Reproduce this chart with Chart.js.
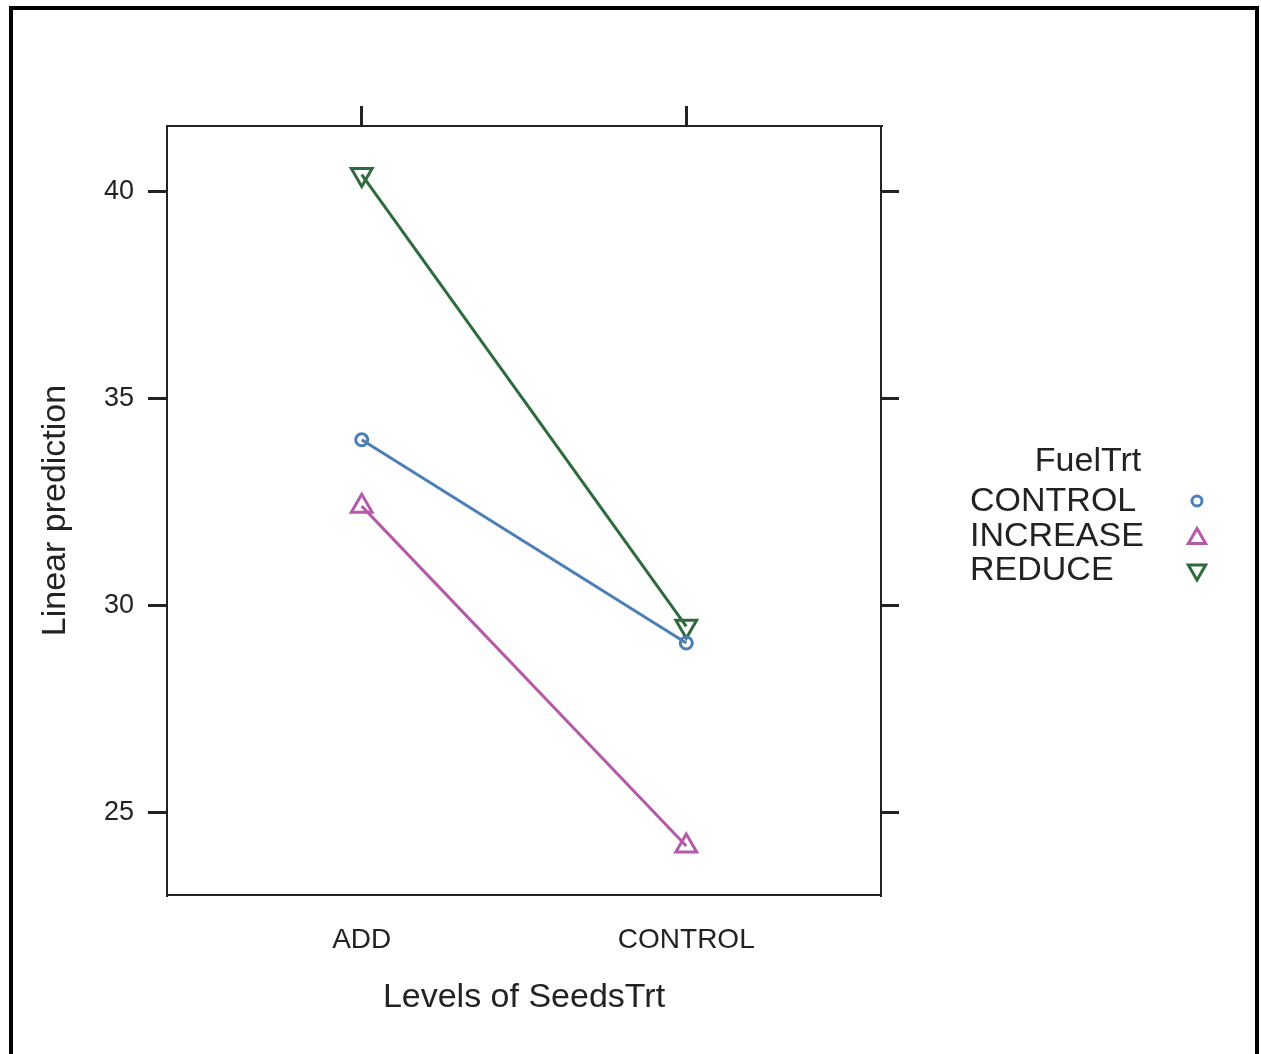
<!DOCTYPE html>
<html>
<head>
<meta charset="utf-8">
<script src="https://cdn.jsdelivr.net/npm/chart.js@4/dist/chart.umd.min.js"></script>
<style>
  body { margin: 0; background: #fff; }
</style>
</head>
<body>
<canvas id="predChart" width="1261" height="1054"></canvas>
<script>
// Categorieen op de x-as (SeedsTrt)
var seedsLevels = ["ADD", "CONTROL"];
// Namen van de reeksen (FuelTrt)
var fuelNames = ["CONTROL", "INCREASE", "REDUCE"];
// Voorspelde waarden per reeks, zelfde volgorde als seedsLevels
var controlValues = [34.0, 29.1];
var increaseValues = [32.4, 24.2];
var reduceValues = [40.4, 29.5];
// Waarden op de y-as
var yTickValues = [25, 30, 35, 40];

var fuelColors = ["#4b7fb8", "#b45aa8", "#2e6b3c"];
var textColor = "#222";
var fontFamily = "'Liberation Sans', Arial, sans-serif";

function toPoints(values) {
    return values.map(function (v, i) { return { x: i, y: v }; });
}

function categoryTicks(scale) {
    scale.ticks = seedsLevels.map(function (_, i) { return { value: i }; });
}

function valueTicks(scale) {
    scale.ticks = yTickValues.map(function (v) { return { value: v }; });
}

// Zwarte rand om de hele figuur
var framePlugin = {
    id: "frame",
    beforeDraw: function (chart) {
        var ctx = chart.ctx;
        ctx.save();
        ctx.fillStyle = "#fff";
        ctx.fillRect(0, 0, chart.width, chart.height);
        ctx.strokeStyle = "#000";
        ctx.lineWidth = 4;
        ctx.strokeRect(11, 8, 1246, 1100);
        ctx.restore();
    }
};

// Tekent een marker zoals Chart.js dat doet
function drawMarker(ctx, style, rotation, r, x, y) {
    ctx.beginPath();
    if (style === "circle") {
        ctx.arc(x, y, r, 0, Math.PI * 2);
    } else {
        var rad = rotation * Math.PI / 180;
        for (var k = 0; k < 3; k++) {
            var px = x + Math.sin(rad) * r;
            var py = y - Math.cos(rad) * r;
            if (k === 0) ctx.moveTo(px, py); else ctx.lineTo(px, py);
            rad += 2 * Math.PI / 3;
        }
        ctx.closePath();
    }
    ctx.stroke();
}

// Legenda in lattice-stijl: titel, tekst links, marker rechts
var legendPlugin = {
    id: "latticeKey",
    afterDraw: function (chart) {
        var ctx = chart.ctx;
        ctx.save();
        ctx.fillStyle = textColor;
        ctx.font = "34px " + fontFamily;
        ctx.textBaseline = "middle";
        ctx.textAlign = "center";
        ctx.fillText("FuelTrt", 1088, 462);
        ctx.textAlign = "left";
        chart.data.datasets.forEach(function (ds, i) {
            var y = 502 + i * 34.5;
            ctx.fillStyle = textColor;
            ctx.fillText(ds.label, 970, y);
            ctx.strokeStyle = ds.borderColor;
            ctx.lineWidth = 3;
            var r = ds.pointStyle === "circle" ? 5 : 10;
            drawMarker(ctx, ds.pointStyle, ds.rotation || 0, r, 1197, y + (ds.pointStyle === "triangle" && !ds.rotation ? 2 : -1));
        });
        ctx.restore();
    }
};

var seriesValues = [controlValues, increaseValues, reduceValues];
var pointStyles = ["circle", "triangle", "triangle"];
var pointRotations = [0, 0, 180];
var pointRadii = [6, 12, 12];

var datasets = fuelNames.map(function (name, i) {
    return {
        label: name,
        data: toPoints(seriesValues[i]),
        showLine: true,
        borderColor: fuelColors[i],
        backgroundColor: "rgba(0,0,0,0)",
        borderWidth: 3,
        pointStyle: pointStyles[i],
        rotation: pointRotations[i],
        pointRadius: pointRadii[i],
        pointBorderWidth: 3,
        pointBackgroundColor: "rgba(0,0,0,0)",
        pointBorderColor: fuelColors[i]
    };
});

var tickGrid = function (len) {
    return { drawOnChartArea: false, drawTicks: true, tickLength: len, lineWidth: 3, color: textColor };
};
var axisBorder = { display: true, color: textColor, width: 2 };

var ctx = document.getElementById("predChart").getContext("2d");
var chart = new Chart(ctx, {
    type: "scatter",
    data: { datasets: datasets },
    plugins: [framePlugin, legendPlugin],
    options: {
        responsive: false,
        animation: false,
        layout: { padding: { left: 0, top: 106, right: 360, bottom: 0 } },
        plugins: { legend: { display: false }, tooltip: { enabled: false } },
        scales: {
            x: {
                type: "linear",
                position: "bottom",
                min: -0.6,
                max: 1.6,
                afterBuildTicks: categoryTicks,
                afterFit: function (s) { s.height = 159; },
                grid: { drawOnChartArea: false, drawTicks: false },
                border: axisBorder,
                ticks: {
                    color: textColor,
                    padding: 28,
                    font: { family: fontFamily, size: 28 },
                    callback: function (v) { return seedsLevels[v]; }
                },
                title: {
                    display: true,
                    text: "Levels of SeedsTrt",
                    color: textColor,
                    font: { family: fontFamily, size: 34 },
                    padding: { top: 0, bottom: 36 }
                }
            },
            x2: {
                type: "linear",
                axis: "x",
                position: "top",
                min: -0.6,
                max: 1.6,
                afterBuildTicks: categoryTicks,
                afterFit: function (s) { s.height = 20; },
                grid: tickGrid(20),
                border: axisBorder,
                ticks: { display: false }
            },
            y: {
                type: "linear",
                position: "left",
                min: 23.02,
                max: 41.57,
                afterBuildTicks: valueTicks,
                afterFit: function (s) { s.width = 167; },
                grid: tickGrid(19),
                border: axisBorder,
                ticks: {
                    color: textColor,
                    padding: 14,
                    font: { family: fontFamily, size: 27 }
                },
                title: {
                    display: true,
                    text: "Linear prediction",
                    color: textColor,
                    font: { family: fontFamily, size: 34 },
                    padding: { top: 35, bottom: 0 }
                }
            },
            y2: {
                type: "linear",
                axis: "y",
                position: "right",
                min: 23.02,
                max: 41.57,
                afterBuildTicks: valueTicks,
                afterFit: function (s) { s.width = 20; },
                grid: tickGrid(18),
                border: axisBorder,
                ticks: { display: false }
            }
        }
    }
});
</script>
</body>
</html>
